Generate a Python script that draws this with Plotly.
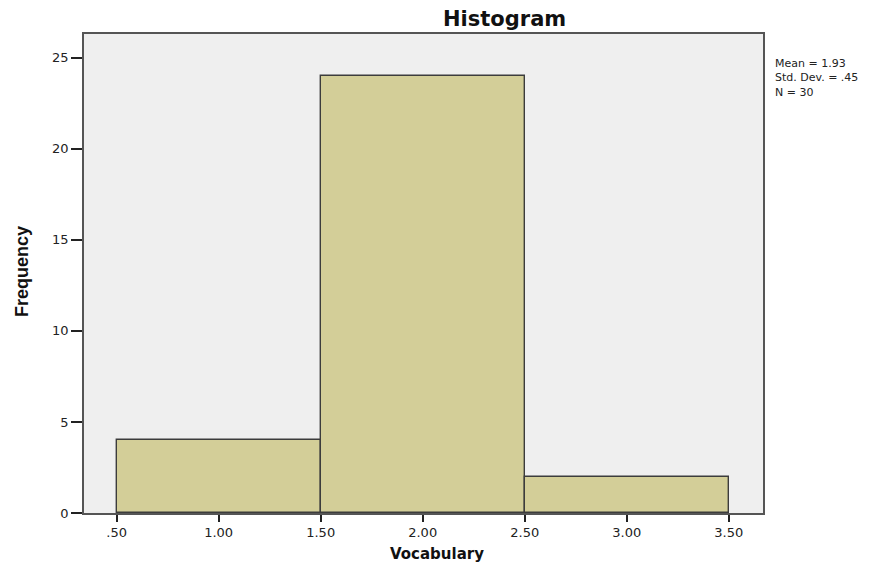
import plotly.graph_objects as go

bin_centers = [1.0, 2.0, 3.0]
counts = [4, 24, 2]
bin_width = 1.0
x_ticks = [0.5, 1.0, 1.5, 2.0, 2.5, 3.0, 3.5]
x_tick_labels = [".50", "1.00", "1.50", "2.00", "2.50", "3.00", "3.50"]
y_ticks = [0, 5, 10, 15, 20, 25]
stats_lines = ["Mean = 1.93", "Std. Dev. = .45", "N = 30"]
title_text = "Histogram"
x_title = "Vocabulary"
y_title = "Frequency"

W, H = 895, 567
PL, PT, PR, PB = 84, 34, 763, 513  # plot area in page pixels


def px(x):
    return (x - PL) / (PR - PL)


def py(y):
    return (PB - y) / (PB - PT)


fig = go.Figure()
fig.add_trace(go.Bar(
    x=bin_centers, y=counts, width=[bin_width] * len(counts),
    marker=dict(color="#d3ce98", line=dict(color="#3c3c3c", width=1.4)),
    showlegend=False,
))

tick_font = dict(family="DejaVu Sans, sans-serif", size=13, color="#222")
annotations = [
    dict(text="<b>%s</b>" % title_text, x=px(504), y=py(19), xref="paper", yref="paper",
         xanchor="center", yanchor="middle", showarrow=False,
         font=dict(size=21, family="DejaVu Sans, sans-serif", color="#111")),
    dict(text="<b>%s</b>" % x_title, x=px(437), y=py(554), xref="paper", yref="paper",
         xanchor="center", yanchor="middle", showarrow=False,
         font=dict(size=15, family="DejaVu Sans, sans-serif", color="#111")),
    dict(text="<b>%s</b>" % y_title, x=px(22), y=py(272), xref="paper", yref="paper",
         xanchor="center", yanchor="middle", showarrow=False, textangle=-90,
         font=dict(size=18, family="Liberation Sans Narrow, Liberation Sans, Arial, sans-serif", color="#111")),
    dict(text="<br>".join(stats_lines), x=px(773), y=py(78), xref="paper", yref="paper",
         xanchor="left", yanchor="middle", align="left", showarrow=False,
         font=dict(size=11, family="DejaVu Sans, sans-serif", color="#222")),
]

fig.update_layout(
    width=W, height=H,
    margin=dict(l=PL, r=W - PR, t=PT, b=H - PB, pad=0),
    paper_bgcolor="white", plot_bgcolor="#efefef",
    font=dict(family="DejaVu Sans, sans-serif", size=12, color="#222"),
    bargap=0,
    xaxis=dict(
        range=[0.34, 3.668], tickvals=x_ticks, ticktext=x_tick_labels,
        ticks="outside", ticklen=7, tickcolor="#222", tickwidth=1.5,
        showline=True, linecolor="#555", linewidth=1.5, mirror=True,
        showgrid=False, zeroline=False, tickfont=tick_font,
    ),
    yaxis=dict(
        range=[0, 26.3], tickvals=y_ticks,
        ticks="outside", ticklen=11, tickcolor="#222", tickwidth=1.5,
        showline=True, linecolor="#555", linewidth=1.5, mirror=True,
        showgrid=False, zeroline=False, tickfont=tick_font,
    ),
    annotations=annotations,
)

fig.write_html("out.html", config={"displayModeBar": False},
               post_script="document.body.style.margin='0';")
